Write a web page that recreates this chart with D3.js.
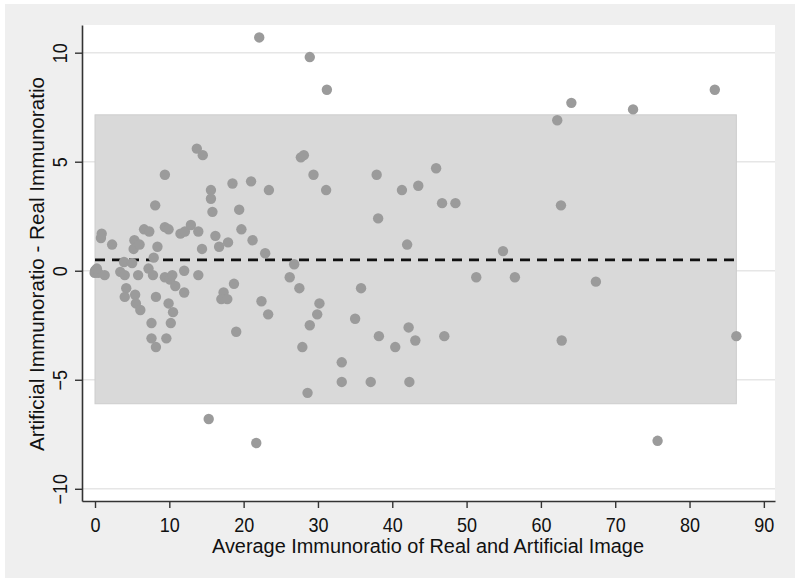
<!DOCTYPE html>
<html>
<head>
<meta charset="utf-8">
<script src="https://cdn.jsdelivr.net/npm/d3@7"></script>
<style>
  body { margin: 0; background: #fff; }
  text { font-family: "Liberation Sans", Arial, sans-serif; fill: #111; }
</style>
</head>
<body>
<svg id="chart" width="800" height="584"></svg>
<script>
// Bland-Altman data
let avgValues = [0.0, 0.15, 0.3, -0.05, 0.45, 0.25, 1.3, 0.9, 0.8, 2.3,
	3.4, 4.0, 3.9, 5.0, 5.3, 5.2, 6.0, 4.2, 4.0, 5.4,
	5.5, 6.1, 5.8, 6.6, 7.3, 7.2, 7.8, 7.9, 8.1, 8.4,
	8.2, 7.6, 7.6, 8.2, 9.4, 9.4, 9.9, 9.4, 10.1, 10.4,
	10.8, 9.9, 10.5, 10.2, 9.6, 11.5, 12.1, 12.9, 12.0, 12.0,
	13.9, 13.9, 14.4, 13.7, 14.5, 15.6, 15.6, 15.8, 16.2, 16.7,
	17.9, 18.5, 19.4, 19.7, 18.7, 17.3, 17.0, 17.8, 19.0, 15.3,
	21.0, 21.2, 22.1, 22.9, 22.4, 23.3, 23.4, 21.7, 28.9, 31.2,
	27.7, 28.1, 29.4, 31.1, 26.8, 26.2, 27.5, 30.2, 29.9, 28.9,
	27.9, 28.6, 33.2, 33.2, 37.1, 35.0, 35.8, 37.9, 38.1, 38.2,
	40.4, 41.3, 43.5, 42.0, 42.2, 43.1, 42.3, 45.9, 46.7, 48.5,
	47.0, 51.3, 54.9, 56.5, 62.2, 64.1, 72.4, 83.4, 62.7, 62.8,
	67.4, 75.7, 86.3];
let diffValues = [0.0, 0.05, -0.05, -0.1, -0.1, 0.1, -0.2, 1.7, 1.5, 1.2,
	-0.05, -0.2, 0.4, 0.35, 1.4, 1.0, 1.2, -0.8, -1.2, -1.1,
	-1.5, -1.8, -0.2, 1.9, 1.8, 0.1, -0.2, 0.6, 3.0, 1.1,
	-1.2, -2.4, -3.1, -3.5, 4.4, 2.0, 1.9, -0.3, -0.4, -0.2,
	-0.7, -1.5, -1.9, -2.4, -3.1, 1.7, 1.8, 2.1, 0.0, -1.0,
	1.8, -0.2, 1.0, 5.6, 5.3, 3.7, 3.3, 2.7, 1.6, 1.1,
	1.3, 4.0, 2.8, 1.9, -0.6, -1.0, -1.3, -1.3, -2.8, -6.8,
	4.1, 1.4, 10.7, 0.8, -1.4, -2.0, 3.7, -7.9, 9.8, 8.3,
	5.2, 5.3, 4.4, 3.7, 0.3, -0.3, -0.8, -1.5, -2.0, -2.5,
	-3.5, -5.6, -4.2, -5.1, -5.1, -2.2, -0.8, 4.4, 2.4, -3.0,
	-3.5, 3.7, 3.9, 1.2, -2.6, -3.2, -5.1, 4.7, 3.1, 3.1,
	-3.0, -0.3, 0.9, -0.3, 6.9, 7.7, 7.4, 8.3, 3.0, -3.2,
	-0.5, -7.8, -3.0];

let meanDiff = 0.5;
let limits = [-6.1, 7.15];
let bandRange = [0, 86.3];

let xTicks = [0, 10, 20, 30, 40, 50, 60, 70, 80, 90];
let yTicks = [-10, -5, 0, 5, 10];

let xLabel = "Average Immunoratio of Real and Artificial Image";
let yLabel = "Artificial Immunoratio - Real  Immunoratio";

let plot_left = 82, plot_right = 775, plot_top = 25, plot_bottom = 501;

let svg = d3.select("#chart");

// outer panel
svg.append("rect")
	.attr("x", 5).attr("y", 4)
	.attr("width", 790).attr("height", 574)
	.attr("fill", "#efefef");

// plot region
svg.append("rect")
	.attr("x", plot_left).attr("y", plot_top)
	.attr("width", plot_right - plot_left).attr("height", plot_bottom - plot_top)
	.attr("fill", "#ffffff");

let x = d3.scaleLinear().domain([-1.75, 91.5]).range([plot_left, plot_right]);
let y = d3.scaleLinear().domain([-10.56, 11.27]).range([plot_bottom, plot_top]);

// gridlines
svg.append("g").selectAll("line")
	.data(yTicks)
	.enter().append("line")
	.attr("x1", plot_left).attr("x2", plot_right)
	.attr("y1", d => y(d)).attr("y2", d => y(d))
	.attr("stroke", "#e6e6e6")
	.attr("stroke-width", 1.5);

// limits of agreement band
svg.append("rect")
	.attr("x", x(bandRange[0]))
	.attr("y", y(limits[1]))
	.attr("width", x(bandRange[1]) - x(bandRange[0]))
	.attr("height", y(limits[0]) - y(limits[1]))
	.attr("fill", "#d9d9d9")
	.attr("stroke", "#cdcdcd")
	.attr("stroke-width", 1);

// mean difference
svg.append("line")
	.attr("x1", x(bandRange[0])).attr("x2", x(bandRange[1]))
	.attr("y1", y(meanDiff)).attr("y2", y(meanDiff))
	.attr("stroke", "#111")
	.attr("stroke-width", 2.6)
	.attr("stroke-dasharray", "10,7");

// points
let pts = d3.zip(avgValues, diffValues);
svg.append("g").selectAll("circle")
	.data(pts)
	.enter().append("circle")
	.attr("cx", d => x(d[0]))
	.attr("cy", d => y(d[1]))
	.attr("r", 5.2)
	.attr("fill", "#9b9b9b");

// x axis
let gx = svg.append("g")
	.attr("transform", "translate(0," + plot_bottom + ")")
	.call(d3.axisBottom(x).tickValues(xTicks).tickSize(7).tickSizeOuter(0));
gx.select(".domain").attr("stroke", "#333").attr("stroke-width", 1.6);
gx.selectAll(".tick line").attr("stroke", "#333").attr("stroke-width", 1.4);
gx.selectAll(".tick text")
	.attr("y", 31).attr("dy", null)
	.attr("transform", "scale(0.9,1)")
	.style("font-size", "20px")
	.attr("fill", "#111");

// y axis
let gy = svg.append("g")
	.attr("transform", "translate(" + plot_left + ",0)")
	.call(d3.axisLeft(y).tickValues(yTicks).tickSize(7).tickSizeOuter(0));
gy.select(".domain").attr("stroke", "#333").attr("stroke-width", 1.6);
gy.selectAll(".tick line").attr("stroke", "#333").attr("stroke-width", 1.4);
gy.selectAll(".tick text")
	.attr("transform", "rotate(-90) scale(0.9,1)")
	.attr("x", 0).attr("y", -15).attr("dy", null)
	.attr("text-anchor", "middle")
	.style("font-size", "20px")
	.attr("fill", "#111");

// axis titles
svg.append("text")
	.attr("x", 428).attr("y", 553)
	.attr("text-anchor", "middle")
	.attr("textLength", 432)
	.attr("lengthAdjust", "spacingAndGlyphs")
	.style("font-size", "20px")
	.text(xLabel);

svg.append("text")
	.attr("transform", "translate(44,264) rotate(-90)")
	.attr("text-anchor", "middle")
	.attr("textLength", 374)
	.attr("lengthAdjust", "spacingAndGlyphs")
	.style("font-size", "20px")
	.text(yLabel);
</script>
</body>
</html>
